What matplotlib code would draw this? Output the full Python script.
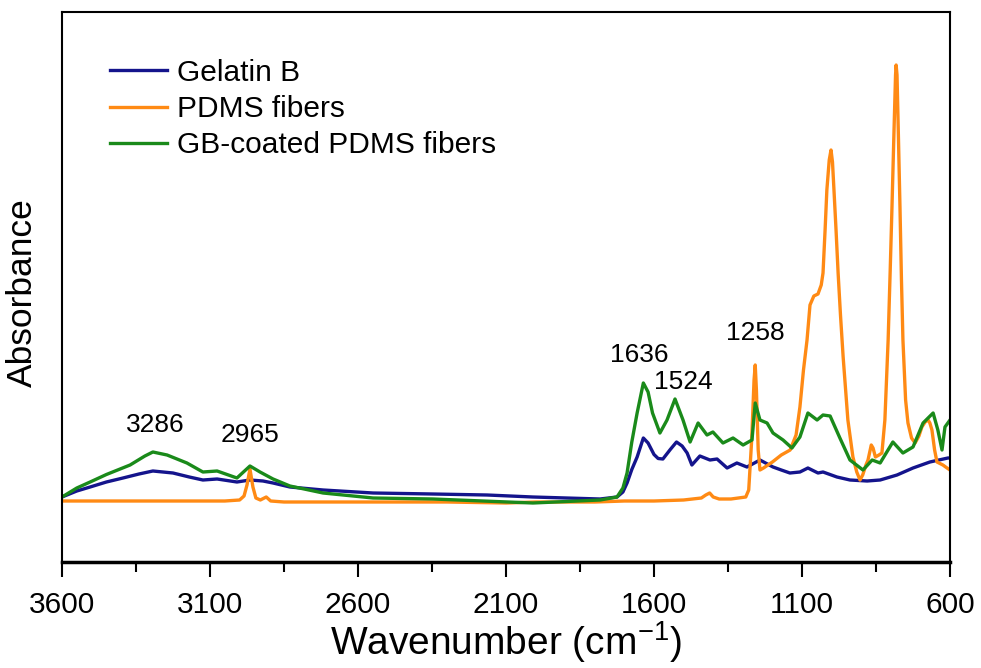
import matplotlib
matplotlib.use('Agg')
import matplotlib.pyplot as plt
import numpy as np

plt.rcParams['font.family'] = ['Liberation Sans', 'DejaVu Sans']
plt.rcParams['mathtext.fontset'] = 'custom'
plt.rcParams['mathtext.rm'] = 'Liberation Sans'
plt.rcParams['mathtext.it'] = 'Liberation Sans'

# Gelatin B
gb_wn = [3600, 3550, 3505, 3450, 3394, 3340, 3293, 3225, 3170, 3124, 3076, 3009, 2965, 2921, 2887, 2830, 2718,
         2549, 2347, 2164, 2009, 1782, 1725, 1705, 1691, 1675, 1657, 1636, 1620, 1600, 1586, 1570, 1545, 1524,
         1505, 1488, 1472, 1445, 1411, 1387, 1353, 1320, 1286, 1242, 1198, 1170, 1141, 1107,
         1080, 1046, 1029, 982, 938, 880, 836, 779, 725, 668, 607, 600]
gb_abs = [0.130, 0.142, 0.150, 0.160, 0.168, 0.176, 0.182, 0.178, 0.170, 0.164, 0.166, 0.160, 0.164, 0.162, 0.158, 0.150, 0.144,
          0.138, 0.136, 0.134, 0.130, 0.126, 0.130, 0.140, 0.158, 0.185, 0.210, 0.248, 0.238, 0.215, 0.207, 0.206, 0.225, 0.240,
          0.232, 0.218, 0.194, 0.212, 0.204, 0.206, 0.188, 0.198, 0.190, 0.204, 0.190, 0.184, 0.178, 0.180,
          0.188, 0.178, 0.180, 0.170, 0.164, 0.162, 0.164, 0.174, 0.188, 0.200, 0.208, 0.208]

# PDMS fibers
pd_wn = [3600, 3400, 3200, 3050, 3000, 2985, 2975, 2965, 2955, 2945, 2930, 2910, 2895, 2850,
         2600, 2300, 2100, 2000, 1800, 1700, 1600, 1500, 1440, 1425, 1412, 1400, 1380, 1340,
         1290, 1280, 1270, 1262, 1258, 1254, 1248, 1242, 1230, 1200, 1170, 1140, 1120, 1107,
         1095, 1083, 1073, 1060, 1046, 1035, 1029, 1022, 1016, 1008, 1002, 997, 992, 985, 978,
         970, 961, 945, 928, 915, 904, 895, 884, 877, 866, 860, 852, 840, 830, 820, 809, 802,
         796, 790, 784, 782, 779, 774, 769, 764, 759, 750, 742, 730, 718, 705, 695, 684, 674,
         668, 661, 652, 644, 624, 610, 600]
pd_abs = [0.122, 0.122, 0.122, 0.122, 0.124, 0.132, 0.154, 0.186, 0.150, 0.128, 0.124, 0.130, 0.122, 0.120,
          0.120, 0.120, 0.118, 0.120, 0.120, 0.122, 0.122, 0.124, 0.128, 0.134, 0.138, 0.130, 0.126, 0.126,
          0.130, 0.144, 0.244, 0.364, 0.394, 0.344, 0.224, 0.184, 0.188, 0.200, 0.214, 0.224, 0.254, 0.310,
          0.384, 0.444, 0.514, 0.532, 0.536, 0.554, 0.578, 0.664, 0.744, 0.804, 0.824, 0.800, 0.744, 0.664, 0.578,
          0.494, 0.410, 0.284, 0.210, 0.180, 0.164, 0.174, 0.194, 0.204, 0.234, 0.228, 0.210, 0.214, 0.218, 0.284, 0.444, 0.584,
          0.710, 0.844, 0.974, 0.994, 0.974, 0.844, 0.710, 0.564, 0.444, 0.324, 0.278, 0.248, 0.238, 0.252, 0.270, 0.280, 0.284,
          0.278, 0.264, 0.224, 0.200, 0.194, 0.188, 0.184]

# GB-coated PDMS fibers
gc_wn = [3600, 3550, 3505, 3450, 3370, 3320, 3293, 3245, 3178, 3124, 3076, 3009, 2965, 2931, 2887, 2830, 2718,
         2549, 2347, 2009, 1782, 1725, 1705, 1691, 1675, 1657, 1636, 1620, 1605, 1580, 1556, 1529, 1502, 1478,
         1451, 1421, 1401, 1367, 1333, 1299, 1269, 1258, 1242, 1218, 1198, 1164, 1134, 1107,
         1080, 1049, 1029, 1005, 972, 938, 894, 863, 836, 793, 759, 725, 691, 657, 641, 627,
         617, 600]
gc_abs = [0.130, 0.148, 0.160, 0.175, 0.194, 0.212, 0.220, 0.214, 0.198, 0.180, 0.182, 0.168, 0.192, 0.180, 0.166, 0.152, 0.138,
          0.128, 0.126, 0.118, 0.124, 0.130, 0.148, 0.178, 0.240, 0.298, 0.358, 0.340, 0.298, 0.258, 0.284, 0.326, 0.284, 0.240,
          0.278, 0.254, 0.260, 0.238, 0.248, 0.234, 0.244, 0.318, 0.284, 0.278, 0.258, 0.244, 0.228, 0.250,
          0.298, 0.284, 0.294, 0.292, 0.248, 0.204, 0.184, 0.204, 0.198, 0.240, 0.218, 0.230, 0.278, 0.298, 0.264, 0.224,
          0.270, 0.284]

peak_labels = ['3286', '2965', '1636', '1524', '1258']
peak_x = [3286, 2965, 1650, 1500, 1258]
peak_y = [0.274, 0.254, 0.414, 0.360, 0.458]

fig = plt.figure(figsize=(9.81, 6.68), dpi=100)
ax = fig.add_axes([62/981, 106/668, 888/981, 550/668])

ax.plot(gb_wn, gb_abs, color='#14148c', lw=2.4, label='Gelatin B')
ax.plot(pd_wn, pd_abs, color='#ff8a14', lw=2.4, label='PDMS fibers')
ax.plot(gc_wn, gc_abs, color='#1a8a1a', lw=2.4, label='GB-coated PDMS fibers')

for t, x, y in zip(peak_labels, peak_x, peak_y):
    ax.text(x, y, t, fontsize=19, ha='center', va='center')

ax.set_xlim(3600, 600)
ax.set_ylim(0, 1.1)
ax.set_xticks(np.arange(3600, 599, -500))
ax.set_xticks(np.arange(3350, 600, -500), minor=True)
ax.set_yticks([])
ax.tick_params(axis='x', which='major', length=11, width=1.5, labelsize=21.5, direction='out', pad=10)
ax.tick_params(axis='x', which='minor', length=7, width=1.5, direction='out')
for s in ax.spines.values():
    s.set_linewidth(1.5)
ax.spines['bottom'].set_linewidth(2.5)

ax.set_xlabel('Wavenumber (cm$^{-1}$)', fontsize=28, labelpad=0)
ax.set_ylabel('Absorbance', fontsize=25.5)
ax.yaxis.set_label_coords(-0.026, 0.49)

ax.legend(loc='upper left', bbox_to_anchor=(0.054, 0.915), frameon=False, fontsize=21.5,
          handlelength=1.9, handletextpad=0.33, labelspacing=0.28, borderaxespad=0, borderpad=0)

fig.savefig('out.png', dpi=100)
